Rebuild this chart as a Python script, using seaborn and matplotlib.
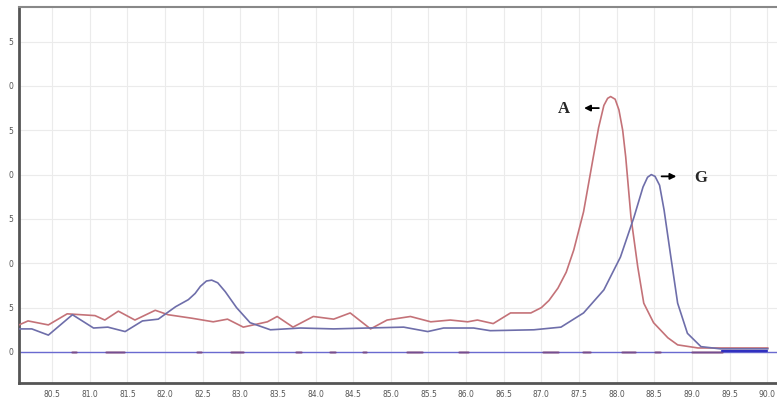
import pandas as pd
import seaborn as sns
import matplotlib.pyplot as plt
import numpy as np

sns.set_theme(style="whitegrid")

# melt curve A (red)
temp_a = [80.06, 80.18, 80.45, 80.70, 81.07, 81.20, 81.38, 81.60, 81.87, 82.04,
          82.36, 82.64, 82.83, 83.04, 83.36, 83.49, 83.70, 83.97, 84.24, 84.46,
          84.73, 84.95, 85.26, 85.53, 85.79, 86.02, 86.15, 86.36, 86.59, 86.86,
          87.00, 87.10, 87.22, 87.33, 87.43, 87.56, 87.69, 87.76, 87.83, 87.88,
          87.92, 87.98, 88.03, 88.08, 88.12, 88.19, 88.28, 88.36, 88.49, 88.68,
          88.81, 89.08, 89.50, 90.01]
deriv_a = [3.05, 3.5, 3.05, 4.3, 4.1, 3.6, 4.6, 3.6, 4.7, 4.2,
           3.8, 3.4, 3.7, 2.8, 3.4, 4.0, 2.8, 4.0, 3.7, 4.4,
           2.6, 3.6, 4.0, 3.4, 3.6, 3.4, 3.6, 3.2, 4.4, 4.4,
           5.0, 5.8, 7.2, 9.0, 11.5, 15.8, 22.0, 25.3, 27.8, 28.6,
           28.8, 28.5, 27.3, 25.0, 22.0, 15.2, 9.6, 5.5, 3.3, 1.6,
           0.8, 0.45, 0.45, 0.45]

# melt curve G (blue)
temp_g = [80.06, 80.23, 80.45, 80.77, 81.05, 81.24, 81.47, 81.70, 81.91, 82.14,
          82.31, 82.40, 82.47, 82.55, 82.62, 82.70, 82.80, 82.95, 83.13, 83.40,
          83.80, 84.24, 84.69, 85.17, 85.49, 85.70, 86.10, 86.32, 86.90, 87.26,
          87.56, 87.83, 88.05, 88.23, 88.35, 88.41, 88.46, 88.51, 88.57, 88.63,
          88.72, 88.81, 88.94, 89.12, 89.38, 90.01]
deriv_g = [2.6, 2.6, 1.9, 4.2, 2.7, 2.8, 2.3, 3.5, 3.7, 5.1,
           5.9, 6.6, 7.4, 8.0, 8.1, 7.8, 6.8, 5.0, 3.3, 2.5,
           2.7, 2.6, 2.7, 2.8, 2.3, 2.7, 2.7, 2.4, 2.5, 2.8,
           4.4, 7.0, 10.7, 15.2, 18.6, 19.7, 20.0, 19.8, 18.8, 16.0,
           10.7, 5.5, 2.1, 0.6, 0.35, 0.35]

# little marks sitting on the zero line (start, end)
mark_start = [80.77, 81.22, 82.42, 82.87, 83.74, 84.19, 84.63, 85.21, 85.90,
              87.02, 87.55, 88.07, 88.51, 89.00]
mark_end = [80.82, 81.46, 82.48, 83.04, 83.80, 84.26, 84.67, 85.41, 86.03,
            87.22, 87.64, 88.24, 88.57, 89.40]

y_ticks = [0, 5, 10, 15, 20, 25, 30, 35]
y_labels = ["0", "5", "0", "5", "0", "5", "0", "5"]
x_ticks = [80.5 + 0.5 * i for i in range(20)]
x_labels = [f"{t:.1f}" for t in x_ticks]

df_a = pd.DataFrame({"temp": temp_a, "deriv": deriv_a})
df_g = pd.DataFrame({"temp": temp_g, "deriv": deriv_g})

fig = plt.figure(figsize=(7.77, 4.03), dpi=100)
ax = fig.add_axes([19 / 777, 20 / 403, 1 - 19 / 777, 376 / 403])

# zero baseline
ax.axhline(0, color="#6a6ad0", lw=1.0, zorder=2)
for s, e in zip(mark_start, mark_end):
    ax.plot([s, e], [0, 0], color="#7a3a6a", lw=1.8, alpha=0.6, zorder=2)
ax.plot([89.4, 90.0], [0.15, 0.15], color="#3030c0", lw=1.6, zorder=2)

sns.lineplot(data=df_a, x="temp", y="deriv", ax=ax, color="#c47278", lw=1.2,
             estimator=None, sort=False, zorder=3)
sns.lineplot(data=df_g, x="temp", y="deriv", ax=ax, color="#6e6eaa", lw=1.2,
             estimator=None, sort=False, zorder=3)

ax.set_xlim(80.06, 90.13)
ax.set_ylim(-3.5, 38.9)
ax.set_xticks(x_ticks)
ax.set_xticklabels(x_labels)
ax.set_yticks(y_ticks)
ax.set_yticklabels(y_labels)
ax.set_xlabel("")
ax.set_ylabel("")
ax.tick_params(axis="both", length=0, labelsize=5.5, labelcolor="#555555")
ax.tick_params(axis="x", pad=5)
ax.tick_params(axis="y", pad=4)
ax.grid(True, color="#ebebeb", lw=0.8)

for side in ["left", "bottom"]:
    ax.spines[side].set_color("#555555")
    ax.spines[side].set_linewidth(2.0)
ax.spines["top"].set_color("#888888")
ax.spines["top"].set_linewidth(1.5)
ax.spines["right"].set_visible(False)

# peak labels
ax.text(87.30, 27.4, "A", fontsize=12, fontweight="bold", family="Liberation Serif",
        ha="center", va="center")
ax.annotate("", xy=(87.53, 27.5), xytext=(87.80, 27.5),
            arrowprops=dict(arrowstyle="-|>", color="black", lw=1.3, mutation_scale=9))
ax.text(89.12, 19.6, "G", fontsize=12, fontweight="bold", family="Liberation Serif",
        ha="center", va="center")
ax.annotate("", xy=(88.83, 19.8), xytext=(88.56, 19.8),
            arrowprops=dict(arrowstyle="-|>", color="black", lw=1.3, mutation_scale=9))

plt.savefig("out.png", dpi=100)
